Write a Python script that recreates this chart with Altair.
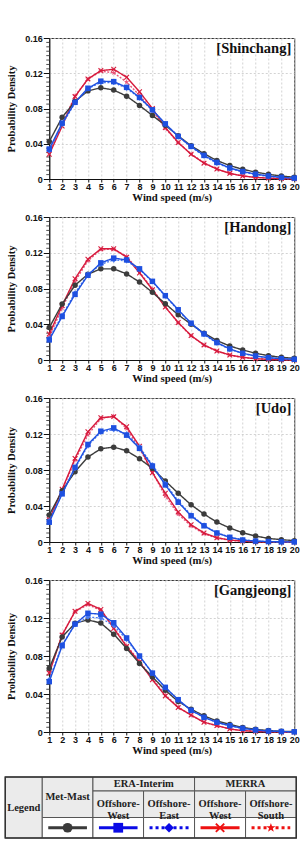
import altair as alt
import pandas as pd

# ---------------- data ----------------
speeds = list(range(1, 21))
series = ["Met-Mast", "ERA-Interim Offshore-West", "ERA-Interim Offshore-East",
          "MERRA Offshore-West", "MERRA Offshore-South"]
site_labels = ["[Shinchang]", "[Handong]", "[Udo]", "[Gangjeong]"]
y_ticks = [0, 0.04, 0.08, 0.12, 0.16]

shinchang_met = [0.0425, 0.070, 0.088, 0.100, 0.1035, 0.101, 0.094, 0.0835, 0.072, 0.061,
                 0.049, 0.0377, 0.0287, 0.021, 0.0152, 0.011, 0.0078, 0.0053, 0.0034, 0.002]
shinchang_era_w = [0.034, 0.0634, 0.087, 0.103, 0.111, 0.1105, 0.104, 0.0925, 0.0785, 0.0626,
                   0.0483, 0.037, 0.0268, 0.0188, 0.0125, 0.0085, 0.0055, 0.0034, 0.0019, 0.001]
shinchang_era_e = [0.032, 0.062, 0.0865, 0.1025, 0.1095, 0.1095, 0.103, 0.092, 0.078, 0.0625,
                   0.0485, 0.0365, 0.026, 0.018, 0.012, 0.008, 0.005, 0.003, 0.0017, 0.0009]
shinchang_merra_w = [0.028, 0.060, 0.0935, 0.1136, 0.123, 0.1245, 0.1155, 0.099, 0.080, 0.0585,
                     0.0415, 0.028, 0.018, 0.0113, 0.0064, 0.0034, 0.0019, 0.001, 0.0005, 0.0002]
shinchang_merra_s = [0.030, 0.062, 0.0945, 0.113, 0.1225, 0.1205, 0.110, 0.095, 0.0775, 0.0575,
                     0.041, 0.0285, 0.0185, 0.0112, 0.0064, 0.0035, 0.0018, 0.0009, 0.0004, 0.0002]

handong_met = [0.0363, 0.0626, 0.0836, 0.096, 0.102, 0.102, 0.0963, 0.0873, 0.0757, 0.063,
               0.0506, 0.040, 0.030, 0.0217, 0.0157, 0.0112, 0.0075, 0.0049, 0.003, 0.0019]
handong_era_w = [0.0225, 0.0487, 0.0734, 0.0948, 0.1087, 0.114, 0.112, 0.102, 0.088, 0.072,
                 0.0562, 0.0412, 0.0292, 0.0195, 0.0124, 0.0075, 0.0045, 0.0026, 0.0015, 0.0008]
handong_era_e = [0.024, 0.050, 0.075, 0.096, 0.107, 0.112, 0.111, 0.1015, 0.0875, 0.0715,
                 0.0555, 0.0405, 0.0285, 0.019, 0.012, 0.0072, 0.0043, 0.0024, 0.0013, 0.0007]
handong_merra_w = [0.029, 0.061, 0.091, 0.1128, 0.1244, 0.1244, 0.115, 0.0974, 0.0787, 0.0592,
                   0.042, 0.0273, 0.0169, 0.0101, 0.0056, 0.003, 0.0015, 0.0007, 0.0003, 0.0001]
handong_merra_s = [0.026, 0.058, 0.088, 0.111, 0.1235, 0.124, 0.116, 0.0985, 0.0795, 0.0595,
                   0.0415, 0.027, 0.0165, 0.0098, 0.0054, 0.0028, 0.0014, 0.0006, 0.0003, 0.0001]

udo_met = [0.030, 0.057, 0.078, 0.0944, 0.1036, 0.1054, 0.1014, 0.0925, 0.0818, 0.0678,
           0.0542, 0.0413, 0.031, 0.0221, 0.0155, 0.0103, 0.0066, 0.004, 0.0026, 0.0015]
udo_era_w = [0.022, 0.0535, 0.083, 0.1084, 0.1231, 0.1268, 0.1187, 0.104, 0.0844, 0.0634,
             0.0442, 0.0291, 0.018, 0.010, 0.0052, 0.0022, 0.001, 0.0005, 0.0002, 0.0001]
udo_era_e = [0.0235, 0.054, 0.082, 0.107, 0.122, 0.125, 0.120, 0.1055, 0.0855, 0.065,
             0.0455, 0.030, 0.0185, 0.0103, 0.0054, 0.0024, 0.0011, 0.0005, 0.0002, 0.0001]
udo_merra_w = [0.0247, 0.0586, 0.0929, 0.1224, 0.1382, 0.1393, 0.128, 0.1065, 0.077, 0.0542,
               0.0332, 0.0192, 0.010, 0.0048, 0.0022, 0.001, 0.0004, 0.0002, 0.0001, 0.0]
udo_merra_s = [0.026, 0.057, 0.091, 0.119, 0.137, 0.140, 0.126, 0.104, 0.0775, 0.051,
               0.031, 0.0178, 0.0092, 0.0044, 0.0019, 0.0008, 0.0003, 0.0001, 0.0001, 0.0]

gangjeong_met = [0.067, 0.100, 0.1145, 0.118, 0.1147, 0.103, 0.088, 0.072, 0.058, 0.044,
                 0.032, 0.024, 0.017, 0.0116, 0.008, 0.0048, 0.0028, 0.0015, 0.0008, 0.0004]
gangjeong_era_w = [0.053, 0.0908, 0.1136, 0.125, 0.124, 0.115, 0.099, 0.080, 0.062, 0.047,
                   0.034, 0.0228, 0.0154, 0.0102, 0.0067, 0.0039, 0.0021, 0.001, 0.0005, 0.0002]
gangjeong_era_e = [0.055, 0.092, 0.113, 0.121, 0.120, 0.112, 0.0975, 0.0795, 0.062, 0.0465,
                   0.0335, 0.023, 0.0155, 0.0102, 0.0065, 0.0038, 0.002, 0.001, 0.0005, 0.0002]
gangjeong_merra_w = [0.062, 0.102, 0.127, 0.1354, 0.129, 0.109, 0.090, 0.0735, 0.055, 0.038,
                     0.0257, 0.0179, 0.0102, 0.0067, 0.0032, 0.0014, 0.0007, 0.0003, 0.0001, 0.0]
gangjeong_merra_s = [0.064, 0.103, 0.1265, 0.134, 0.128, 0.110, 0.091, 0.0745, 0.0565, 0.039,
                     0.0265, 0.0175, 0.0105, 0.0065, 0.0033, 0.0015, 0.0007, 0.0003, 0.0001, 0.0]

site_values = [
    [shinchang_met, shinchang_era_w, shinchang_era_e, shinchang_merra_w, shinchang_merra_s],
    [handong_met, handong_era_w, handong_era_e, handong_merra_w, handong_merra_s],
    [udo_met, udo_era_w, udo_era_e, udo_merra_w, udo_merra_s],
    [gangjeong_met, gangjeong_era_w, gangjeong_era_e, gangjeong_merra_w, gangjeong_merra_s],
]

legend_title = ["Legend"]
legend_groups = ["Met-Mast", "ERA-Interim", "MERRA"]
legend_subs = ["Offshore-\nWest", "Offshore-\nEast", "Offshore-\nWest", "Offshore-\nSouth"]

# ---------------- styles ----------------
X_PATH = ("M-1,-0.72L-0.72,-1L0,-0.28L0.72,-1L1,-0.72L0.28,0L1,0.72L0.72,1"
          "L0,0.28L-0.72,1L-1,0.72L-0.28,0Z")
STAR_PATH = ("M0,-1L0.235,-0.324L0.951,-0.309L0.38,0.124L0.588,0.809L0,0.4"
             "L-0.588,0.809L-0.38,0.124L-0.951,-0.309L-0.235,-0.324Z")

plot_colors = ["#3c3c3c", "#1e50e0", "#4a7af0", "#d61a3c", "#e8557a"]
legend_colors = ["#3a3a3a", "#0a0ae6", "#0a0ae6", "#ee1111", "#ee1111"]
shapes = ["circle", "square", "diamond", X_PATH, STAR_PATH]
plot_dash = [[1, 0], [1, 0], [2, 1.5], [1, 0], [2, 1.5]]
legend_dash = [[1, 0], [1, 0], [3, 3], [1, 0], [3, 3]]
draw_order = [4, 3, 0, 2, 1]

PLOT_W = 245
panel_heights = [141, 143, 144, 152]
SERIF = "Liberation Serif"
SANS = "Liberation Sans"


def make_panel(label, values, height):
    rows = []
    for name, vals in zip(series, values):
        for s, v in zip(speeds, vals):
            rows.append({"speed": s, "density": v, "series": name})
    df = pd.DataFrame(rows)

    x_enc = alt.X("speed:Q",
                  scale=alt.Scale(domain=[1, 20], nice=False, zero=False),
                  axis=alt.Axis(values=speeds, title="Wind speed (m/s)", tickSize=3,
                                labelPadding=0, titlePadding=1, titleFontSize=10.75,
                                labelOverlap=False, labelFlush=False))
    y_enc = alt.Y("density:Q",
                  scale=alt.Scale(domain=[0, 0.16], nice=False, zero=False),
                  axis=alt.Axis(values=y_ticks, format=".2~f", title="Probability Density",
                                tickSize=6, labelPadding=1, titlePadding=8.5, titleFontSize=10.5))

    minor_vals = [round(i * 0.005, 3) for i in range(33) if i % 8 != 0]
    minor = alt.Chart(pd.DataFrame({"density": minor_vals})).mark_rule(
        color="#222", strokeWidth=0.8).encode(y=y_enc, x=alt.value(-3), x2=alt.value(0))

    layers = [minor]
    for i in draw_order:
        sub = alt.Chart(df).transform_filter(alt.datum.series == series[i])
        layers.append(sub.mark_line(color=plot_colors[i], strokeWidth=1.4,
                                    strokeDash=plot_dash[i]).encode(x=x_enc, y=y_enc))
        layers.append(sub.mark_point(color=plot_colors[i], filled=True, opacity=1,
                                     shape=shapes[i], size=30).encode(x=x_enc, y=y_enc))
    tag = alt.Chart(pd.DataFrame({"label": [label]})).mark_text(
        font=SERIF, fontWeight="bold", fontSize=14.5, align="right", baseline="middle",
        color="#111").encode(text="label:N", x=alt.value(PLOT_W - 3), y=alt.value(11))
    layers.append(tag)
    return alt.layer(*layers).properties(width=PLOT_W, height=height)


panels = [make_panel(l, v, h) for l, v, h in zip(site_labels, site_values, panel_heights)]

# ---------------- legend table ----------------
TW, TH = 291, 61
LEFT_OVER = 44          # part of the table that sits left of the plot origin
col_edges = [0, 37, 87.7, 138.3, 189.3, 240.3, 291]
row_edges = [0, 14, 40.5, 61]

head_spans = [(0, 1, 0, 3), (1, 2, 0, 2), (2, 4, 0, 1), (4, 6, 0, 1),
              (2, 3, 1, 2), (3, 4, 1, 2), (4, 5, 1, 2), (5, 6, 1, 2)]
head_texts = legend_title + legend_groups + legend_subs
cells = []
for t, (c0, c1, r0, r1) in zip(head_texts, head_spans):
    cells.append({"text": t, "x0": col_edges[c0], "x1": col_edges[c1],
                  "y0": row_edges[r0], "y1": row_edges[r1], "fill": "head",
                  "xc": (col_edges[c0] + col_edges[c1]) / 2,
                  "yc": (row_edges[r0] + row_edges[r1]) / 2})
sym = []
for i, name in enumerate(series):
    c0, c1 = col_edges[i + 1], col_edges[i + 2]
    cells.append({"text": "", "x0": c0, "x1": c1, "y0": row_edges[2], "y1": row_edges[3],
                  "fill": "body", "xc": (c0 + c1) / 2, "yc": (row_edges[2] + row_edges[3]) / 2})
    sym.append({"series": name, "x0": c0 + 6, "x1": c1 - 6, "xc": (c0 + c1) / 2,
                "yc": (row_edges[2] + row_edges[3]) / 2})
cells_df = pd.DataFrame(cells)
sym_df = pd.DataFrame(sym)
frame_df = pd.DataFrame([{"x0": col_edges[0], "x1": col_edges[-1],
                          "y0": row_edges[0], "y1": row_edges[-1]}])

lx = alt.Scale(domain=[LEFT_OVER, TW], nice=False, zero=False)
ly = alt.Scale(domain=[0, TH], nice=False, zero=False, reverse=True)

rects = alt.Chart(cells_df).mark_rect(stroke="#555", strokeWidth=1).encode(
    x=alt.X("x0:Q", scale=lx, axis=None), x2="x1:Q",
    y=alt.Y("y0:Q", scale=ly, axis=None), y2="y1:Q",
    fill=alt.Fill("fill:N", scale=alt.Scale(domain=["head", "body"], range=["#ebebeb", "#ffffff"]),
                  legend=None))
frame = alt.Chart(frame_df).mark_rect(stroke="#333", strokeWidth=1.5, fillOpacity=0).encode(
    x=alt.X("x0:Q", scale=lx, axis=None), x2="x1:Q",
    y=alt.Y("y0:Q", scale=ly, axis=None), y2="y1:Q")
texts = alt.Chart(cells_df).transform_filter(alt.datum.text != "").mark_text(
    font=SERIF, fontWeight="bold", fontSize=10.5, lineBreak="\n", lineHeight=12,
    align="center", baseline="middle", color="#222").encode(
    x=alt.X("xc:Q", scale=lx, axis=None), y=alt.Y("yc:Q", scale=ly, axis=None), text="text:N")
sym_lines = alt.Chart(sym_df).mark_rule(strokeWidth=3).encode(
    x=alt.X("x0:Q", scale=lx, axis=None), x2="x1:Q",
    y=alt.Y("yc:Q", scale=ly, axis=None),
    color=alt.Color("series:N", scale=alt.Scale(domain=series, range=legend_colors), legend=None),
    strokeDash=alt.StrokeDash("series:N", scale=alt.Scale(domain=series, range=legend_dash),
                              legend=None))
sym_pts = alt.Chart(sym_df).mark_point(filled=True, opacity=1, size=95).encode(
    x=alt.X("xc:Q", scale=lx, axis=None), y=alt.Y("yc:Q", scale=ly, axis=None),
    color=alt.Color("series:N", scale=alt.Scale(domain=series, range=legend_colors), legend=None),
    shape=alt.Shape("series:N", scale=alt.Scale(domain=series, range=shapes), legend=None))
legend_tbl = alt.layer(rects, frame, texts, sym_lines, sym_pts).properties(
    width=TW - LEFT_OVER, height=TH, view=alt.ViewBackground(stroke="transparent"))

plots = alt.VConcatChart(vconcat=panels, spacing=9)
chart = alt.VConcatChart(vconcat=[plots, legend_tbl], spacing=19).properties(
    padding={"left": 3.25, "top": 33, "right": 0, "bottom": 0}
).configure_view(stroke="#333", strokeWidth=1).configure_axis(
    labelFont=SANS, labelFontWeight="bold", labelFontSize=9, labelColor="#111",
    titleFont=SERIF, titleFontWeight="bold", titleColor="#111",
    domainColor="#111", tickColor="#111", gridColor="#c8c8c8", gridDash=[2, 2], gridWidth=0.8
)

chart.save("out.html", embed_options={"renderer": "svg", "actions": False})
